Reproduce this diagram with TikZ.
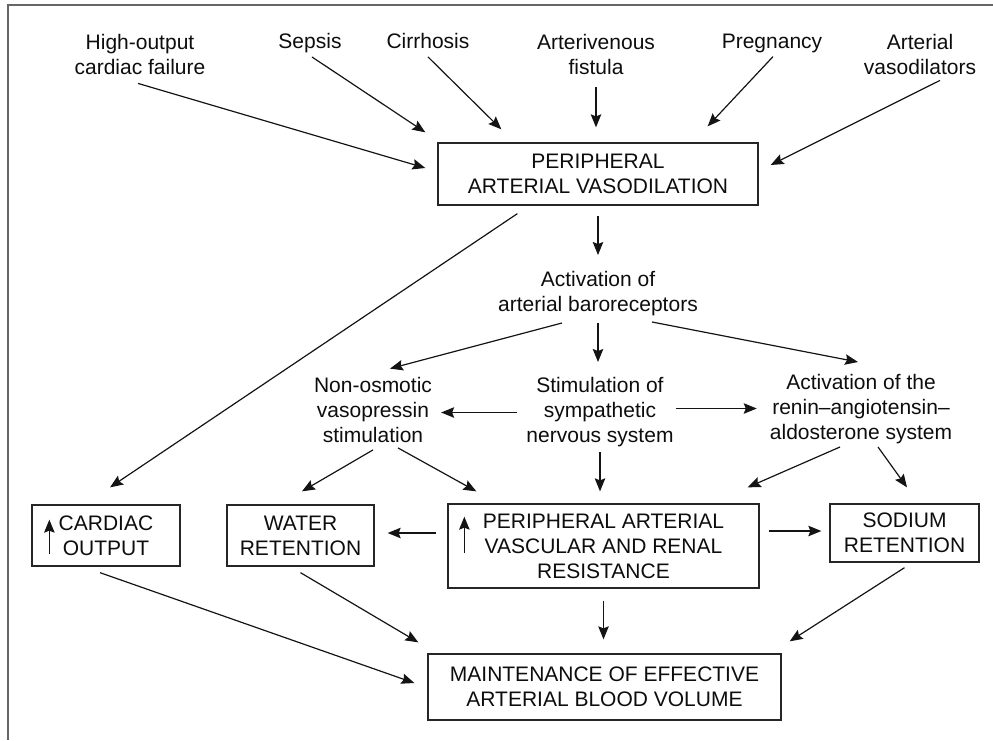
\documentclass[tikz,border=0pt]{standalone}
\usepackage{fontspec}
\setmainfont{Liberation Sans}
\usetikzlibrary{arrows.meta}

\begin{document}
\begin{tikzpicture}[x=1pt, y=-1pt,
	txt/.style={inner sep=0pt, align=center, font=\fontsize{21}{25}\selectfont, text=black!95},
	box/.style={txt, draw=black!85, line width=1.3pt},
	arr/.style={-{Stealth[length=13pt,width=10.5pt,inset=2pt]}, line width=1.2pt, draw=black!92}]
	\useasboundingbox (0,0) rectangle (993,740);
	\draw[black!60, line width=1.3pt] (993,5) -- (8,5) -- (8,740);
	% causes
	\node[txt] (hof) at (140,54) {High-output\\cardiac failure};
	\node[txt] (sepsis) at (310,43.5) {Sepsis};
	\node[txt] (cirr) at (428,41) {Cirrhosis};
	\node[txt] (avf) at (596,54) {Arterivenous\\fistula};
	\node[txt] (preg) at (772,43.5) {Pregnancy};
	\node[txt] (avd) at (920,54) {Arterial\\vasodilators};
	\node[box, minimum width=320pt, minimum height=62pt] (pav) at (598,174) {PERIPHERAL\\ARTERIAL VASODILATION};
	\draw[arr] ([xshift=-2pt,yshift=-9pt]hof.south) -- ([xshift=-12pt,yshift=6pt]pav.west);
	\draw[arr] ([xshift=2pt,yshift=-3.5pt]sepsis.south) -- ([xshift=-12pt,yshift=10pt]pav.north west);
	\draw[arr] ([yshift=-8pt]cirr.south) -- ([xshift=64pt,yshift=13pt]pav.north west);
	\draw[arr, shorten <=13pt, shorten >=15pt] (avf.south) -- (avf.south |- pav.north);
	\draw[arr] ([xshift=1pt,yshift=-3.5pt]preg.south) -- ([xshift=-51pt,yshift=16pt]pav.north east);
	\draw[arr] ([xshift=20pt,yshift=-6pt]avd.south) -- ([xshift=12pt,yshift=9pt]pav.east);
	% middle
	\node[txt] (baro) at (598,294) {Activation of\\arterial baroreceptors};
	\node[txt] (nonosm) at (373,410) {Non-osmotic\\vasopressin\\stimulation};
	\node[txt] (symp) at (600,412.5) {Stimulation of\\sympathetic\\nervous system};
	\node[txt] (raas) at (861,409.5) {Activation of the\\renin--angiotensin--\\aldosterone system};
	\draw[arr, shorten <=10pt, shorten >=16.5pt] (pav.south) -- (baro.north);
	\draw[arr] ([xshift=-36pt,yshift=-6.5pt]baro.south) -- ([xshift=17pt,yshift=8.5pt]nonosm.north);
	\draw[arr, shorten <=6.5pt, shorten >=15.5pt] (baro.south) -- (baro.south |- symp.north);
	\draw[arr] ([xshift=54pt,yshift=-5.5pt]baro.south) -- ([xshift=-3pt,yshift=12.5pt]raas.north);
	\draw[arr, shorten <=9pt, shorten >=9pt] (symp.west) -- (symp.west -| nonosm.east);
	\draw[arr, shorten <=2pt, shorten >=13pt] ([yshift=4pt]symp.east) -- ([yshift=4pt]symp.east -| raas.west);
	% boxes
	\node[box, minimum width=148pt, minimum height=61pt] (card) at (106,535.5) {CARDIAC\\OUTPUT};
	\node[box, minimum width=147pt, minimum height=61pt] (water) at (300.5,535.5) {WATER\\RETENTION};
	\node[box, minimum width=311pt, minimum height=84pt] (pavrr) at (603.5,546) {PERIPHERAL ARTERIAL\\VASCULAR AND RENAL\\RESISTANCE};
	\node[box, minimum width=149pt, minimum height=58pt] (sodium) at (904.5,533) {SODIUM\\RETENTION};
	\node[box, minimum width=353pt, minimum height=66pt] (maebv) at (604.5,687) {MAINTENANCE OF EFFECTIVE\\ARTERIAL BLOOD VOLUME};
	\draw[arr] ([xshift=18pt,yshift=13pt]card.south west) -- ++(0,-34);
	\draw[arr] ([xshift=17pt,yshift=36pt]pavrr.south west) -- ++(0,-36);
	\draw[arr] ([xshift=80pt,yshift=-8pt]pav.south west) -- ([xshift=4pt,yshift=17pt]card.north);
	\draw[arr] ([yshift=-7pt]nonosm.south) -- ([xshift=1.5pt,yshift=13pt]water.north);
	\draw[arr] ([xshift=25pt,yshift=-5pt]nonosm.south) -- ([xshift=29pt,yshift=12pt]pavrr.north west);
	\draw[arr, shorten <=4.5pt, shorten >=12pt] (symp.south) -- (symp.south |- pavrr.north);
	\draw[arr] ([xshift=-21pt,yshift=-2.5pt]raas.south) -- ([xshift=-12pt,yshift=16pt]pavrr.north east);
	\draw[arr] ([xshift=17pt,yshift=-2.5pt]raas.south) -- ([xshift=2.5pt,yshift=16pt]sodium.north);
	\draw[arr, shorten <=11pt, shorten >=13pt] ([yshift=13pt]pavrr.west) -- ([yshift=13pt]pavrr.west -| water.east);
	\draw[arr, shorten <=9pt, shorten >=8pt] ([yshift=15pt]pavrr.east) -- ([yshift=15pt]pavrr.east -| sodium.west);
	% to blood volume
	\draw[arr] ([xshift=-6pt,yshift=-6pt]card.south) -- ([xshift=-13pt,yshift=4pt]maebv.west);
	\draw[arr] ([yshift=-6pt]water.south) -- ([xshift=-9pt,yshift=11pt]maebv.north west);
	\draw[arr, shorten <=12pt, shorten >=14pt] (pavrr.south) -- (pavrr.south |- maebv.north);
	\draw[arr] ([yshift=-5pt]sodium.south) -- ([xshift=8pt,yshift=12pt]maebv.north east);
\end{tikzpicture}
\end{document}
